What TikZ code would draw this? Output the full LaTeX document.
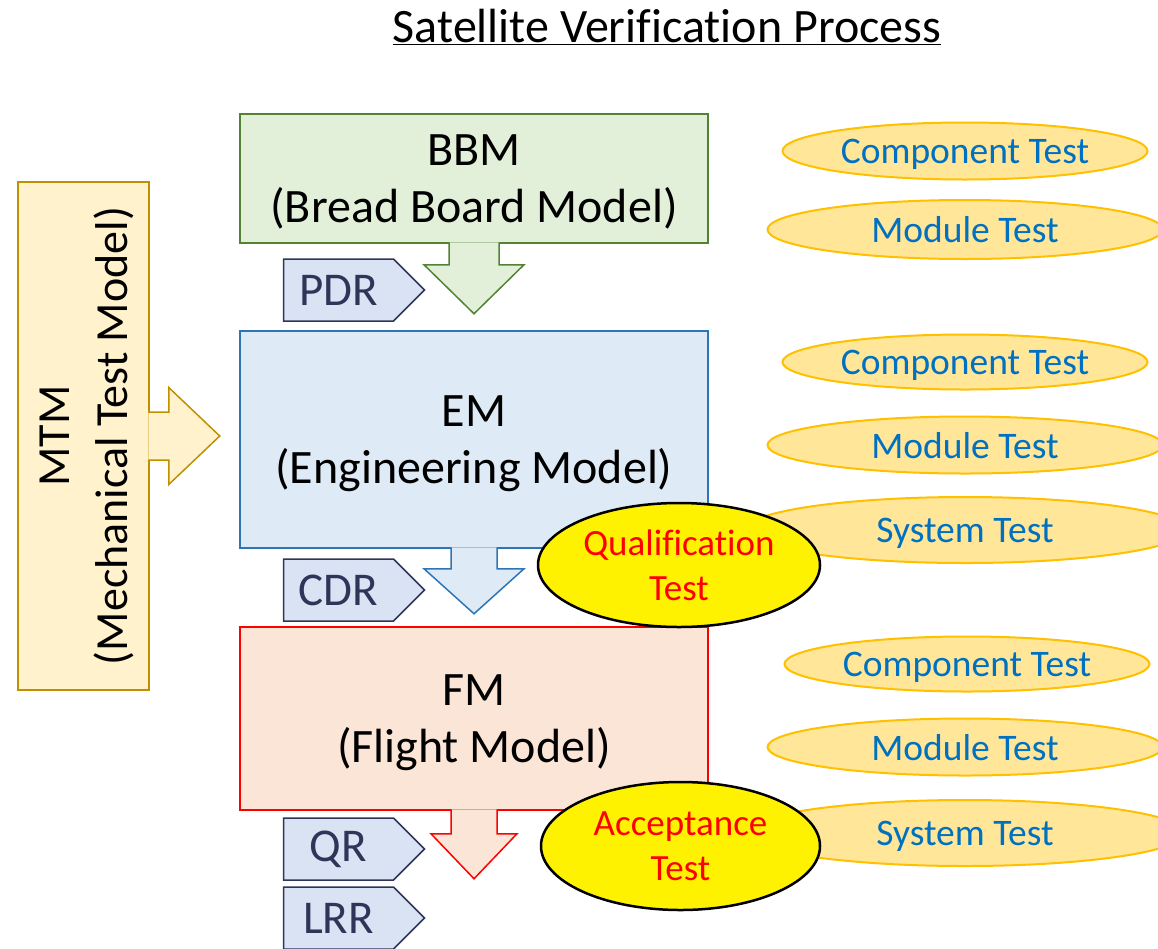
\documentclass[tikz,border=0pt]{standalone}
\usepackage{fontspec}
\setmainfont{Carlito}[Ligatures=NoCommon]
\usetikzlibrary{calc,shapes.geometric,shapes.symbols}
\definecolor{bbmFill}{HTML}{E2F0D9}
\definecolor{bbmStroke}{HTML}{548235}
\definecolor{emFill}{HTML}{DEEBF7}
\definecolor{emStroke}{HTML}{2E75B6}
\definecolor{fmFill}{HTML}{FBE5D6}
\definecolor{fmStroke}{HTML}{FF0000}
\definecolor{mtmFill}{HTML}{FFF2CC}
\definecolor{mtmStroke}{HTML}{BF9000}
\definecolor{reviewFill}{HTML}{DAE3F3}
\definecolor{reviewStroke}{HTML}{2F3559}
\definecolor{testFill}{HTML}{FFE699}
\definecolor{testStroke}{HTML}{FFC000}
\definecolor{testText}{HTML}{0070C0}

\begin{document}
\begin{tikzpicture}[
  x=1pt,y=-1pt,
  bbmbox/.style={rectangle,draw=bbmStroke,line width=1.5pt,fill=bbmFill,minimum width=468pt,align=center,text depth=0pt,font=\fontsize{48}{57}\selectfont},
  embox/.style={rectangle,draw=emStroke,line width=1.5pt,fill=emFill,minimum width=468pt,align=center,text depth=0pt,font=\fontsize{48}{57}\selectfont},
  fmbox/.style={rectangle,draw=fmStroke,line width=1.5pt,fill=fmFill,minimum width=468pt,align=center,text depth=0pt,font=\fontsize{48}{57}\selectfont},
  mtmbox/.style={rectangle,draw=mtmStroke,line width=1.5pt,fill=mtmFill,align=center,text depth=0pt,font=\fontsize{46}{58}\selectfont},
  review/.style={signal,signal to=east,signal pointer angle=90,draw=reviewStroke,line width=1.5pt,fill=reviewFill,text=reviewStroke,minimum width=141pt,minimum height=62pt,inner sep=0pt,font=\fontsize{47}{52}\selectfont},
  testOval/.style={ellipse,draw=testStroke,line width=2pt,fill=testFill,text=testText,inner sep=0pt,text depth=0pt,font=\fontsize{37.5}{44}\selectfont},
  verif/.style={ellipse,draw=black,line width=2.5pt,fill=yellow,text=red,inner sep=0pt,align=center,font=\fontsize{37}{45}\selectfont},
  bigarrow/.style={line width=1.5pt,line join=miter}
]
\useasboundingbox (0,0) rectangle (1158,948);
\node[font=\fontsize{48}{55}\selectfont] (title) at (667,27) {\underline{Satellite Verification Process}};
% model boxes, MTM runs alongside all three
\node[bbmbox,minimum height=129pt] (bbm) at (474,178.5) {BBM\\(Bread Board Model)};
\node[embox,minimum height=217pt] (em) at (474,439.5) {EM\\(Engineering Model)};
\node[fmbox,minimum height=183pt] (fm) at (474,718.5) {FM\\(Flight Model)};
\node[mtmbox,rotate=90,minimum width=508pt,minimum height=131pt] (mtm) at (83.5,436) {MTM\\(Mechanical Test Model)};
\draw[bigarrow,draw=mtmStroke,fill=mtmFill] ($(mtm.south)+(-1.5,-24)$) -- ++(20.5,0) -- ++(0,-24.5) -- ++(51,48.5) -- ++(-51,48.5) -- ++(0,-24.5) -- ++(-20.5,0);
\draw[bigarrow,draw=bbmStroke,fill=bbmFill] ($(bbm.south)+(-25,-1.5)$) -- ++(0,22.5) -- ++(-25,0) -- ++(50,49) -- ++(50,-49) -- ++(-25,0) -- ++(0,-22.5);
\draw[bigarrow,draw=emStroke,fill=emFill] ($(em.south)+(-23,-1.5)$) -- ++(0,21.5) -- ++(-27,0) -- ++(50,45) -- ++(50,-45) -- ++(-27,0) -- ++(0,-21.5);
\draw[bigarrow,draw=fmStroke,fill=fmFill] ($(fm.south)+(-23,-1.5)$) -- ++(0,24.5) -- ++(-20,0) -- ++(43,45) -- ++(43,-45) -- ++(-20,0) -- ++(0,-24.5);
\node[review] (pdr) at (338.5,290) {PDR};
\node[review] (cdr) at (338.5,590) {CDR};
\node[review] (qr) at (338.5,849) {QR};
\node[review] (lrr) at (338.5,918) {LRR};
\node[testOval,minimum width=365pt,minimum height=57pt] (comp1) at (965,151) {Component Test};
\node[testOval,minimum width=395pt,minimum height=59pt] (mod1) at (965,229.5) {Module Test};
\node[testOval,minimum width=365pt,minimum height=55pt] (comp2) at (965,362) {Component Test};
\node[testOval,minimum width=395pt,minimum height=57pt] (mod2) at (965,445) {Module Test};
\node[testOval,minimum width=440pt,minimum height=66pt] (sys2) at (965,530) {System Test};
\node[testOval,minimum width=365pt,minimum height=55pt] (comp3) at (967,664) {Component Test};
\node[testOval,minimum width=395pt,minimum height=57pt] (mod3) at (965,747) {Module Test};
\node[testOval,minimum width=440pt,minimum height=66pt] (sys3) at (965,833) {System Test};
\node[verif,minimum width=282pt,minimum height=124pt] (qual) at (679,565) {Qualification\\Test};
\node[verif,minimum width=279pt,minimum height=128pt] (accept) at (680.5,846) {Acceptance\\Test};
\end{tikzpicture}
\end{document}
